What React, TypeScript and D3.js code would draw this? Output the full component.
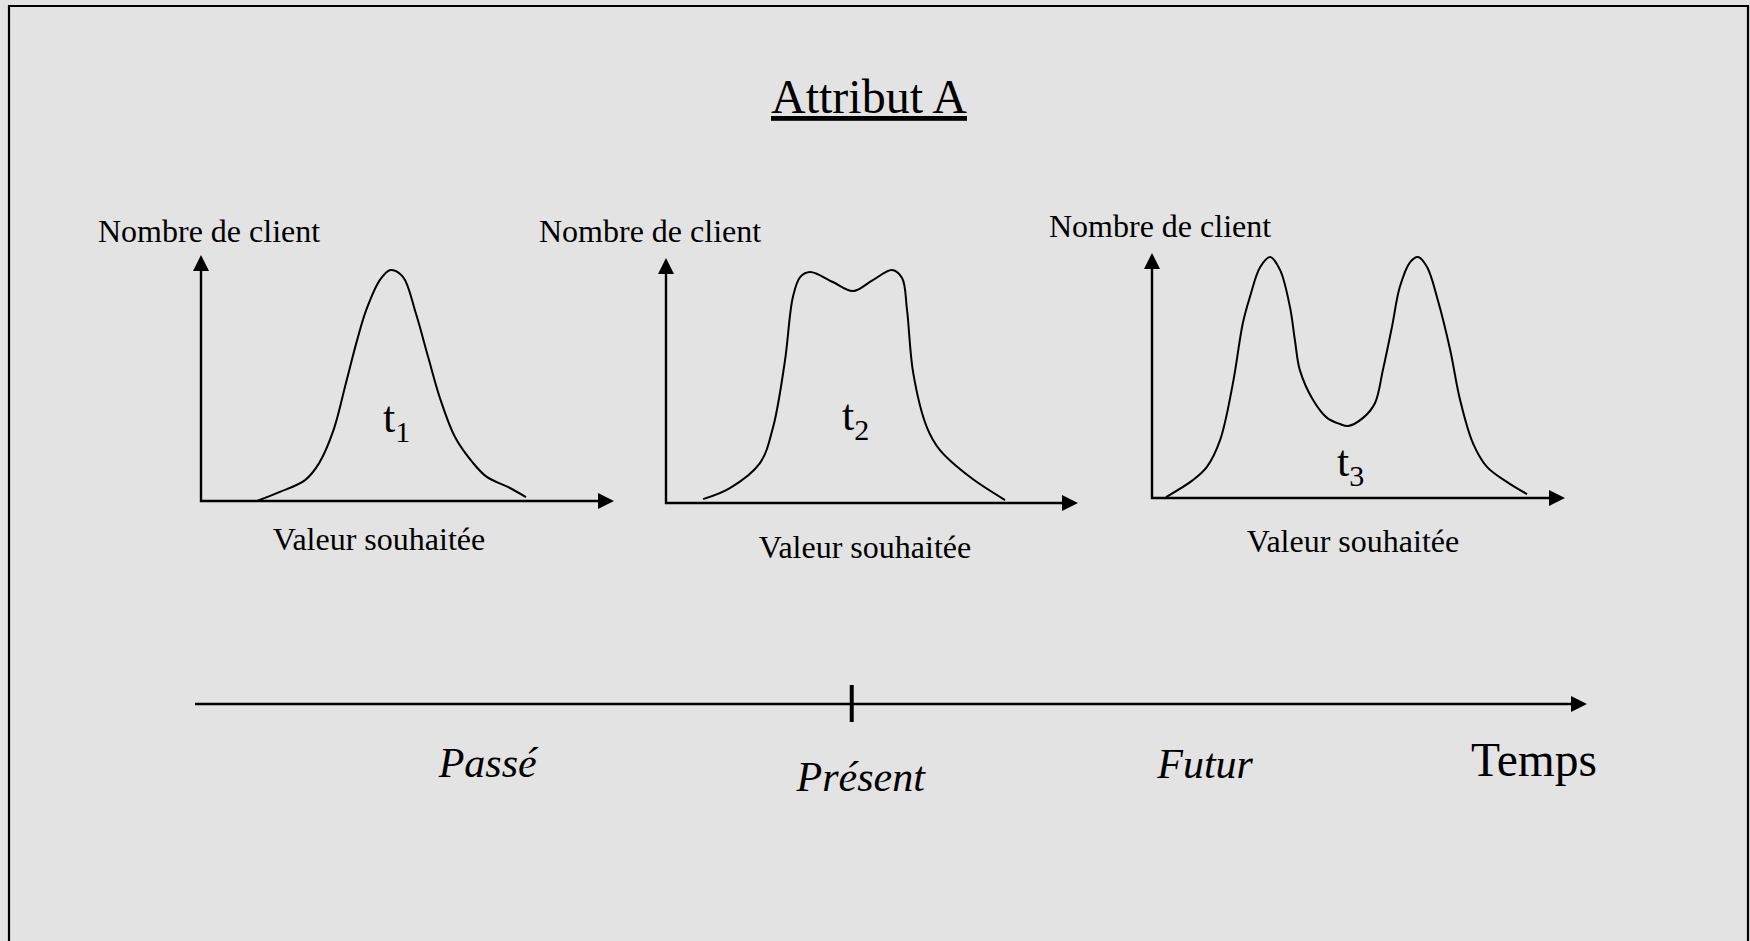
import * as d3 from "d3";
import React, { RefObject, useEffect, useRef } from "react";

// text
const titleText = "Attribut A";
const yAxisText = "Nombre de client";
const xAxisText = "Valeur souhaitée";
const periodTags = ["1", "2", "3"];
const timeLabels = ["Passé", "Présent", "Futur"];
const timeAxisText = "Temps";

// distributions, x and y in axis units (0..100)
const curve1X = [13.7, 19.1, 25.2, 28.6, 32.1, 35.1, 37.8, 40.0, 43.3, 45.9, 48.9, 52.0, 55.0, 58.0, 61.5, 65.9, 69.2, 74.3, 78.7];
const curve1Y = [0.1, 3.7, 8.5, 15.4, 28.9, 48.0, 65.4, 77.6, 89.8, 93.9, 91.1, 76.4, 58.5, 41.1, 26.0, 15.4, 9.8, 5.7, 1.6];

const curve2X = [9.0, 15.5, 22.8, 26.0, 28.9, 30.8, 32.6, 35.0, 40.5, 45.4, 50.2, 54.9, 57.3, 58.5, 60.0, 63.3, 66.5, 73.8, 82.3];
const curve2Y = [1.6, 6.1, 16.3, 31.0, 58.4, 84.1, 92.3, 94.3, 90.2, 86.5, 91.0, 95.1, 91.8, 78.8, 53.1, 31.0, 21.6, 10.6, 1.2];

const curve3X = [3.4, 9.9, 13.3, 16.5, 19.6, 22.0, 23.7, 26.2, 28.6, 31.0, 33.4, 34.6, 35.8, 39.0, 42.4, 45.5, 47.5, 51.1, 54.0, 55.9, 58.1, 60.0, 62.5, 64.4, 66.6, 69.2, 72.2, 74.6, 77.7, 81.1, 86.0, 90.8];
const curve3Y = [0.4, 7.3, 12.7, 23.7, 46.9, 71.4, 82.0, 94.3, 98.4, 93.1, 78.0, 64.5, 52.2, 40.0, 32.7, 30.2, 29.4, 32.7, 38.8, 52.2, 69.8, 86.1, 96.3, 98.4, 94.3, 80.8, 60.4, 40.0, 22.4, 12.7, 6.5, 1.6];

// position of each label on the time line: past, present, future (present tick = 0)
const timeValues = [-1.02, 0.025, 0.99];

const curvesX = [curve1X, curve2X, curve3X];
const curvesY = [curve1Y, curve2Y, curve3Y];

// layout of the three small panels
const panels = [
  { x0: 201, y0: 501, x1: 614, y1: 255, yLab: [98, 242], xLab: [379, 550], tag: [383, 432] },
  { x0: 666, y0: 503, x1: 1078, y1: 258, yLab: [539, 242], xLab: [865, 558], tag: [842, 430] },
  { x0: 1152, y0: 498, x1: 1565, y1: 253, yLab: [1049, 237], xLab: [1353, 552], tag: [1337, 476] },
];

const W = 1750;
const H = 941;
const FONT = "'Liberation Serif', 'Times New Roman', serif";

const App = () => {
  const d3Ref: RefObject<HTMLDivElement> = useRef(null);

  useEffect(() => {
    const root = d3.select(d3Ref.current);
    root.selectAll("*").remove();
    const svg = root
      .append("svg")
      .attr("width", W)
      .attr("height", H)
      .style("display", "block");

    svg.append("rect").attr("width", W).attr("height", H).attr("fill", "#e3e3e3");
    // frame (open at the bottom)
    svg
      .append("path")
      .attr("d", `M9,${H + 5}V6H1748V${H + 5}`)
      .attr("fill", "none")
      .attr("stroke", "#000")
      .attr("stroke-width", 2.2);

    svg
      .append("text")
      .attr("x", 869)
      .attr("y", 113)
      .attr("text-anchor", "middle")
      .attr("font-family", FONT)
      .attr("font-size", 48)
      .attr("text-decoration", "underline")
      .text(titleText);

    const arrow = 16;
    const half = 8;

    panels.forEach((p, i) => {
      const x = d3.scaleLinear().domain([0, 100]).range([p.x0, p.x1]);
      const y = d3.scaleLinear().domain([0, 100]).range([p.y0, p.y1]);
      const g = svg.append("g");

      // axes with arrow heads
      g.append("path")
        .attr("d", `M${p.x0},${p.y1 + arrow}V${p.y0}H${p.x1 - arrow}`)
        .attr("fill", "none")
        .attr("stroke", "#000")
        .attr("stroke-width", 2.4);
      g.append("path")
        .attr("d", `M${p.x0},${p.y1}L${p.x0 - half},${p.y1 + arrow}L${p.x0 + half},${p.y1 + arrow}Z`)
        .attr("fill", "#000");
      g.append("path")
        .attr("d", `M${p.x1},${p.y0}L${p.x1 - arrow},${p.y0 - half}L${p.x1 - arrow},${p.y0 + half}Z`)
        .attr("fill", "#000");

      const pts = curvesX[i].map((v, k) => [v, curvesY[i][k]] as [number, number]);
      g.append("path")
        .datum(pts)
        .attr("fill", "none")
        .attr("stroke", "#000")
        .attr("stroke-width", 2)
        .attr(
          "d",
          d3
            .line<[number, number]>()
            .x((d) => x(d[0]))
            .y((d) => y(d[1]))
            .curve(d3.curveCatmullRom.alpha(0.5))
        );

      g.append("text")
        .attr("x", p.yLab[0])
        .attr("y", p.yLab[1])
        .attr("font-family", FONT)
        .attr("font-size", 32)
        .text(yAxisText);
      g.append("text")
        .attr("x", p.xLab[0])
        .attr("y", p.xLab[1])
        .attr("text-anchor", "middle")
        .attr("font-family", FONT)
        .attr("font-size", 32)
        .text(xAxisText);

      const tag = g
        .append("text")
        .attr("x", p.tag[0])
        .attr("y", p.tag[1])
        .attr("font-family", FONT);
      tag.append("tspan").attr("font-size", 44).text("t");
      tag.append("tspan").attr("font-size", 30).attr("dy", 10).text(periodTags[i]);
    });

    // time line
    const t = d3.scaleLinear().domain([-1.84, 2.06]).range([195, 1587]);
    const ty = 704;
    svg
      .append("line")
      .attr("x1", t(-1.84))
      .attr("x2", t(2.06) - arrow)
      .attr("y1", ty)
      .attr("y2", ty)
      .attr("stroke", "#000")
      .attr("stroke-width", 2.4);
    svg
      .append("path")
      .attr("d", `M${t(2.06)},${ty}L${t(2.06) - arrow},${ty - half}L${t(2.06) - arrow},${ty + half}Z`)
      .attr("fill", "#000");
    svg
      .append("line")
      .attr("x1", t(0))
      .attr("x2", t(0))
      .attr("y1", ty - 19)
      .attr("y2", ty + 18)
      .attr("stroke", "#000")
      .attr("stroke-width", 4);

    const labelY = [777, 791, 778];
    timeLabels.forEach((lab, i) => {
      svg
        .append("text")
        .attr("x", t(timeValues[i]))
        .attr("y", labelY[i])
        .attr("text-anchor", "middle")
        .attr("font-family", FONT)
        .attr("font-style", "italic")
        .attr("font-size", 42)
        .text(lab);
    });
    svg
      .append("text")
      .attr("x", 1471)
      .attr("y", 776)
      .attr("font-family", FONT)
      .attr("font-size", 47.5)
      .text(timeAxisText);
  }, [d3Ref]);

  return (
    <div
      ref={d3Ref}
      style={{ position: "absolute", left: 0, top: 0, width: W, height: H, overflow: "hidden" }}
    />
  );
};

export default App;
